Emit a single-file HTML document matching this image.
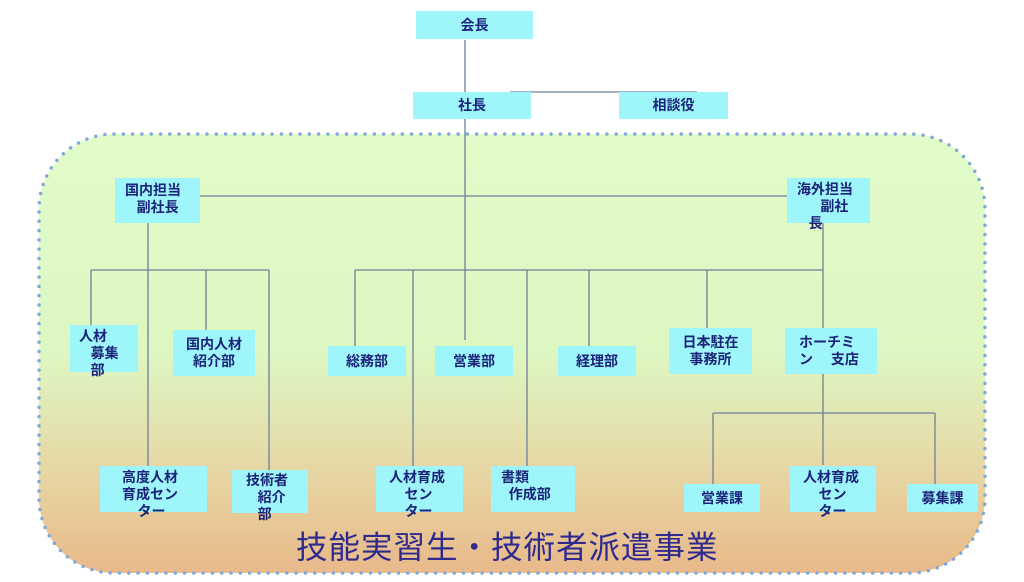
<!DOCTYPE html>
<html><head><meta charset="utf-8"><style>
body{margin:0;width:1024px;height:582px;background:#fff;position:relative;overflow:hidden;font-family:"Liberation Sans","Noto Sans CJK JP",sans-serif}
.panel{position:absolute;left:39px;top:134px;width:946px;height:439px;border-radius:75px;background:linear-gradient(#e2fcc9 0%,#ddf7c2 50%,#e6d9a6 75%,#e9b98a 100%)}
svg{position:absolute;left:0;top:0}
.b{position:absolute;background:#9ef6fb;color:#1c237a;font-weight:bold;font-size:14px;line-height:17px;box-sizing:border-box;white-space:nowrap}
.c{display:flex;align-items:center;justify-content:center}
.t{position:absolute;left:296px;top:522px;font-size:31.5px;color:#2f2a8c;letter-spacing:1px;white-space:nowrap}
</style></head><body>
<div class="panel"></div>
<svg width="1024" height="582" fill="none">
<rect x="39" y="134" width="946" height="439" rx="75" stroke="#7fa8dc" stroke-width="3.5" stroke-linecap="round" stroke-dasharray="0 9.3"/>
<path stroke="#6f7f9a" stroke-width="1.3" d="M465 40V340M510 92H697M200 196H787M148 223V466M91 270H269M91 270V325M206 270V330M269 270V470M355 270H823M355 270V346M413 270V466M527 270V466M589 270V346M707 270V328M823 223V328M823 374V465M713 413H935M713 413V484M935 413V484"/>
</svg>
<div class="b c" style="left:416px;top:11px;width:117px;height:28px">会長</div>
<div class="b c" style="left:413px;top:92px;width:118px;height:27px">社長</div>
<div class="b c" style="left:619px;top:92px;width:109px;height:27px">相談役</div>
<div class="b" style="left:115px;top:178px;width:85px;height:45px;padding:4px 0 0 10px">国内担当<br>&nbsp;&nbsp;&nbsp;副社長</div>
<div class="b" style="left:787px;top:178px;width:83px;height:45px;padding:3px 0 0 10px;overflow:visible">海外担当<br>&nbsp;&nbsp;&nbsp;&nbsp;&nbsp;&nbsp;副社<br>&nbsp;&nbsp;&nbsp;長</div>
<div class="b" style="left:70px;top:325px;width:68px;height:47px;padding:3px 0 0 9px;overflow:visible">人材<br>&nbsp;&nbsp;&nbsp;募集<br>&nbsp;&nbsp;&nbsp;部</div>
<div class="b c" style="left:173px;top:330px;width:82px;height:46px;text-align:center">国内人材<br>紹介部</div>
<div class="b c" style="left:328px;top:346px;width:78px;height:30px">総務部</div>
<div class="b c" style="left:435px;top:346px;width:78px;height:30px">営業部</div>
<div class="b c" style="left:558px;top:346px;width:78px;height:30px">経理部</div>
<div class="b c" style="left:669px;top:328px;width:83px;height:46px;text-align:center">日本駐在<br>事務所</div>
<div class="b" style="left:785px;top:328px;width:92px;height:46px;padding:6px 0 0 14px">ホーチミ<br>ン　&nbsp;支店</div>
<div class="b" style="left:100px;top:466px;width:107px;height:46px;padding:3px 0 0 22px;overflow:visible">高度人材<br>育成セン<br>&nbsp;&nbsp;&nbsp;&nbsp;ター</div>
<div class="b" style="left:232px;top:470px;width:76px;height:43px;padding:2px 0 0 14px;overflow:visible">技術者<br>&nbsp;&nbsp;&nbsp;紹介<br>&nbsp;&nbsp;&nbsp;部</div>
<div class="b" style="left:376px;top:466px;width:87px;height:46px;padding:3px 0 0 13px;overflow:visible">人材育成<br>&nbsp;&nbsp;&nbsp;&nbsp;セン<br>&nbsp;&nbsp;&nbsp;&nbsp;ター</div>
<div class="b" style="left:491px;top:466px;width:84px;height:46px;padding:3px 0 0 10px">書類<br>&nbsp;&nbsp;作成部</div>
<div class="b c" style="left:684px;top:484px;width:76px;height:28px">営業課</div>
<div class="b" style="left:790px;top:466px;width:86px;height:46px;padding:3px 0 0 13px;overflow:visible">人材育成<br>&nbsp;&nbsp;&nbsp;&nbsp;セン<br>&nbsp;&nbsp;&nbsp;&nbsp;ター</div>
<div class="b c" style="left:907px;top:484px;width:71px;height:28px">募集課</div>
<div class="t">技能実習生・技術者派遣事業</div>
</body></html>
